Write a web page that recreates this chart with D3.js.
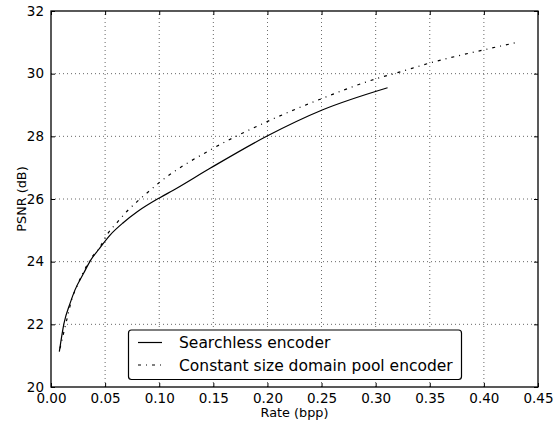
<!DOCTYPE html>
<html>
<head>
<meta charset="utf-8">
<script src="https://d3js.org/d3.v7.min.js"></script>
<style>
  body { margin: 0; background: #fff; }
  text { font-family: "DejaVu Sans", sans-serif; fill: #000; }
  .grid line { stroke: #000; stroke-width: 0.8; stroke-dasharray: 1,3; opacity: 0.75; }
</style>
</head>
<body>
<svg width="555" height="426"></svg>
<script>
// Searchless encoder (solid)
var searchlessRate = [0.0077, 0.012, 0.0176, 0.0222, 0.030, 0.0367, 0.0438, 0.0546, 0.067, 0.080, 0.101, 0.113, 0.147, 0.1997, 0.2506, 0.311];
var searchlessPsnr = [21.13, 22.03, 22.67, 23.10, 23.62, 24.05, 24.38, 24.85, 25.25, 25.60, 26.05, 26.28, 26.98, 28.01, 28.84, 29.55];
// Constant size domain pool encoder (dash-dot)
var poolRate = [0.0083, 0.013, 0.016, 0.019, 0.0238, 0.036, 0.0454, 0.0515, 0.0608, 0.070, 0.0793, 0.090, 0.101, 0.150, 0.1997, 0.2506, 0.3016, 0.32, 0.351, 0.400, 0.4296];
var poolPsnr = [21.23, 21.92, 22.35, 22.78, 23.20, 24.05, 24.48, 24.85, 25.24, 25.6, 25.91, 26.23, 26.55, 27.62, 28.47, 29.21, 29.85, 30.03, 30.35, 30.76, 30.99];

var xTicks = [0, 0.05, 0.1, 0.15, 0.2, 0.25, 0.3, 0.35, 0.4, 0.45];
var yTicks = [20, 22, 24, 26, 28, 30, 32];
var seriesNames = ["Searchless encoder", "Constant size domain pool encoder"];

var margin = {left: 51, top: 11, right: 17, bottom: 39};
var W = 555, H = 426;
var svg = d3.select("svg");

var x = d3.scaleLinear().domain([0, 0.45]).range([margin.left, W - margin.right]);
var y = d3.scaleLinear().domain([20, 32]).range([H - margin.bottom, margin.top]);

// grid
var grid = svg.append("g").attr("class", "grid");
grid.selectAll("line.v").data(xTicks.slice(1, -1)).enter().append("line")
  .attr("x1", function(d) { return x(d); }).attr("x2", function(d) { return x(d); })
  .attr("y1", y(20)).attr("y2", y(32));
grid.selectAll("line.h").data(yTicks.slice(1, -1)).enter().append("line")
  .attr("y1", function(d) { return y(d); }).attr("y2", function(d) { return y(d); })
  .attr("x1", x(0)).attr("x2", x(0.45));

// lines
function pts(xs, ys) { return xs.map(function(v, i) { return [v, ys[i]]; }); }
var line = d3.line().x(function(d) { return x(d[0]); }).y(function(d) { return y(d[1]); }).curve(d3.curveMonotoneX);

svg.append("path").datum(pts(searchlessRate, searchlessPsnr))
  .attr("d", line).attr("fill", "none").attr("stroke", "#000").attr("stroke-width", 1.2);
svg.append("path").datum(pts(poolRate, poolPsnr))
  .attr("d", line).attr("fill", "none").attr("stroke", "#000").attr("stroke-width", 1.2)
  .attr("stroke-dasharray", "3,5,1,5");

// axes (ticks inward)
var fmt = d3.format(".2f");
svg.append("g").attr("transform", "translate(0," + y(20) + ")")
  .call(d3.axisBottom(x).tickValues(xTicks).tickFormat(fmt).tickSizeInner(-4).tickSizeOuter(0).tickPadding(6))
  .call(function(g) { g.select(".domain").remove(); g.selectAll("text").style("font-size", "13.5px").attr("font-family", null); });
svg.append("g").attr("transform", "translate(0," + y(32) + ")")
  .call(d3.axisTop(x).tickValues(xTicks).tickFormat("").tickSizeInner(-4).tickSizeOuter(0))
  .call(function(g) { g.select(".domain").remove(); });
svg.append("g").attr("transform", "translate(" + x(0) + ",0)")
  .call(d3.axisLeft(y).tickValues(yTicks).tickFormat(d3.format("d")).tickSizeInner(-4).tickSizeOuter(0).tickPadding(7))
  .call(function(g) { g.select(".domain").remove(); g.selectAll("text").style("font-size", "13.5px").attr("font-family", null); });
svg.append("g").attr("transform", "translate(" + x(0.45) + ",0)")
  .call(d3.axisRight(y).tickValues(yTicks).tickFormat("").tickSizeInner(-4).tickSizeOuter(0))
  .call(function(g) { g.select(".domain").remove(); });

// frame
svg.append("rect").attr("x", x(0)).attr("y", y(32))
  .attr("width", x(0.45) - x(0)).attr("height", y(20) - y(32))
  .attr("fill", "none").attr("stroke", "#000").attr("stroke-width", 1.3);

// axis labels
svg.append("text").attr("x", (x(0) + x(0.45)) / 2).attr("y", 417)
  .attr("text-anchor", "middle").style("font-size", "12.8px").text("Rate (bpp)");
svg.append("text").attr("transform", "translate(26," + y(26) + ") rotate(-90)")
  .attr("text-anchor", "middle").style("font-size", "12.8px").text("PSNR (dB)");

// legend
var lg = svg.append("g");
lg.append("rect").attr("x", 128.5).attr("y", 330).attr("width", 333).attr("height", 49.5)
  .attr("rx", 3).attr("fill", "#fff").attr("stroke", "#000").attr("stroke-width", 1.2);
var dashes = [null, "3,5,1,5"];
lg.selectAll("line.item").data(seriesNames).enter().append("line")
  .attr("x1", 138).attr("x2", 162)
  .attr("y1", function(d, i) { return 342.5 + i * 22.5; })
  .attr("y2", function(d, i) { return 342.5 + i * 22.5; })
  .attr("stroke", "#000").attr("stroke-width", 1.2)
  .attr("stroke-dasharray", function(d, i) { return dashes[i]; });
lg.selectAll("text.item").data(seriesNames).enter().append("text")
  .attr("x", 179).attr("y", function(d, i) { return 342.5 + i * 22.5; })
  .attr("dy", "0.36em").style("font-size", "15.5px").text(function(d) { return d; });
</script>
</body>
</html>
